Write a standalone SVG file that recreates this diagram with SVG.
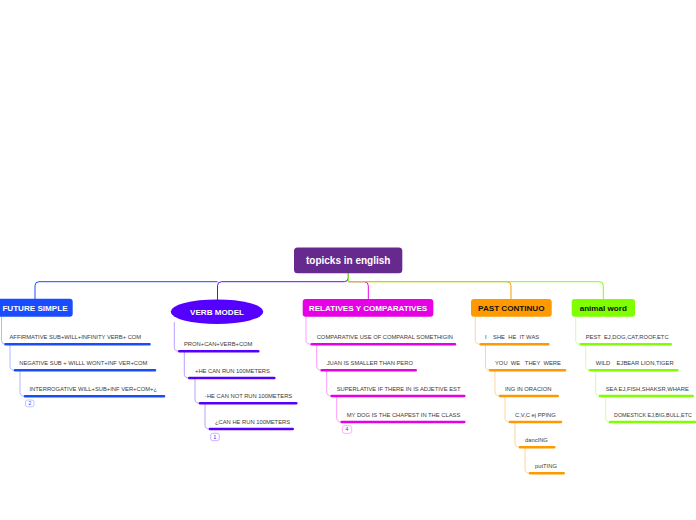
<svg xmlns="http://www.w3.org/2000/svg" width="696" height="520" viewBox="0 0 696 520">
<style>
.t{font-family:"Liberation Sans",Arial,sans-serif;font-size:5.8px;fill:#3a3a3a}
.h{font-family:"Liberation Sans",Arial,sans-serif;font-weight:bold;font-size:8.1px;text-anchor:middle}
.u{fill:none;stroke-width:2.6;stroke-linecap:round}
.c{fill:none;stroke-width:1}
.b{font-family:"Liberation Sans",Arial,sans-serif;font-size:5px;text-anchor:middle}
</style>
<rect width="696" height="520" fill="#fff"/>
<g id="connectors">
<path class="c" stroke="#1a4cff" d="M217.5,281.7 H39 Q35,281.7 35,285.7 V299"/>
<path class="c" stroke="#5a10ff" d="M348.3,273 V277.7 Q348.3,281.7 344.3,281.7 H221.5 Q217.5,281.7 217.5,285.7 V300"/>
<path class="c" stroke="#e600e6" d="M348.3,281.7 H364.3 Q368.3,281.7 368.3,285.7 V299"/>
<path class="c" stroke="#ff9900" d="M348.3,281.7 H507 Q511,281.7 511,285.7 V299"/>
<path class="c" stroke="#80ff00" d="M348.3,273 V281.7 H599.3 Q603.3,281.7 603.3,285.7 V299"/>
<g stroke="#a9bcff" class="c">
<path d="M1.5,316.7 V340.3 Q1.5,344.3 5.5,344.3"/>
<path d="M10,345 V366.3 Q10,370.3 15,370.3"/>
<path d="M20,371 V392.3 Q20,396.3 25,396.3"/>
</g>
<g stroke="#b9a0ff" class="c">
<path d="M174.3,322 V347.3 Q174.3,351.3 179.3,351.3"/>
<path d="M184.3,352 V374 Q184.3,378 189.3,378"/>
<path d="M195,379 V399.3 Q195,403.3 200,403.3"/>
<path d="M205,404 V425 Q205,429 210,429"/>
</g>
<g stroke="#ff9cff" class="c">
<path d="M306,316.7 V340.3 Q306,344.3 311.7,344.3"/>
<path d="M316.7,345 V366.3 Q316.7,370.3 321.7,370.3"/>
<path d="M326.7,371 V392 Q326.7,396 331.7,396"/>
<path d="M336.7,397 V418 Q336.7,422 341.7,422"/>
</g>
<g stroke="#ffd699" class="c">
<path d="M475.3,316.7 V340.3 Q475.3,344.3 480.7,344.3"/>
<path d="M485.5,345 V366.3 Q485.5,370.3 490,370.3"/>
<path d="M495,371 V392 Q495,396 500,396"/>
<path d="M505,397 V418 Q505,422 510,422"/>
<path d="M515,423 V443.3 Q515,447.3 520,447.3"/>
<path d="M525,448 V469.3 Q525,473.3 530,473.3"/>
</g>
<g stroke="#d0ffa0" class="c">
<path d="M575.7,316.7 V340.3 Q575.7,344.3 580.7,344.3"/>
<path d="M585.7,345 V366.3 Q585.7,370.3 590,370.3"/>
<path d="M595.7,371 V392 Q595.7,396 600,396"/>
<path d="M605.7,397 V418 Q605.7,422 610,422"/>
</g>
</g>
<g id="root">
<rect x="294" y="247.5" width="108.3" height="25.8" rx="3.5" fill="#662a8f"/>
<text class="h" x="348.2" y="264.2" style="font-size:10px" fill="#fff">topicks in english</text>
</g>
<g id="future">
<rect x="-6" y="298.7" width="78.7" height="18" rx="3" fill="#1a4cff"/>
<text class="h" x="35" y="310.9" fill="#fff">FUTURE SIMPLE</text>
<path class="u" stroke="#1a4cff" d="M5.5,344.3 H149.5 M15,370.3 H155 M25,396.3 H164"/>
<text class="t" x="9.5" y="339">AFFIRMATIVE SUB+WILL+INFINITY VERB+ COM</text>
<text class="t" x="19.3" y="365">NEGATIVE SUB + WILLL WONT+INF VER+COM</text>
<text class="t" x="29.5" y="391">INTERROGATIVE WILL+SUB+INF VER+COM+¿</text>
<rect x="25.5" y="400" width="8.5" height="6.8" rx="2" fill="#fff" stroke="#a9bcff" stroke-width="0.8"/>
<text class="b" x="29.8" y="405.3" fill="#1a4cff">2</text>
</g>
<g id="verb">
<ellipse cx="217" cy="311.7" rx="46.3" ry="12.3" fill="#5500ff"/>
<text class="h" x="217" y="314.6" fill="#fff">VERB MODEL</text>
<path class="u" stroke="#5500ff" d="M179.3,351.3 H258.3 M189.3,378 H274.3 M200,403.3 H296.3 M210,429 H292.7"/>
<text class="t" x="184" y="346.3">PRON+CAN+VERB+COM</text>
<text class="t" x="195" y="372.7">+HE CAN RUN 100METERS</text>
<text class="t" x="205" y="398">-HE CAN NOT RUN 100METERS</text>
<text class="t" x="215" y="423.7">¿CAN HE RUN 100METERS</text>
<rect x="210.7" y="433.3" width="8.6" height="7.4" rx="2" fill="#fff" stroke="#b9a0ff" stroke-width="0.8"/>
<text class="b" x="215" y="438.9" fill="#5500ff">1</text>
</g>
<g id="relatives">
<rect x="302.7" y="299" width="130.6" height="17.7" rx="3" fill="#e600e6"/>
<text class="h" x="368" y="310.8" fill="#fff">RELATIVES Y COMPARATIVES</text>
<path class="u" stroke="#e600e6" d="M311.7,344.3 H455 M321.7,370.3 H415.7 M331.7,396 H464.3 M341.7,422 H464.3"/>
<text class="t" x="316.7" y="338.8">COMPARATIVE USE OF COMPARAL SOMETHIGIN</text>
<text class="t" x="326.7" y="364.8">JUAN IS SMALLER THAN PERO</text>
<text class="t" x="336.7" y="390.5">SUPERLATIVE IF THERE IN IS ADJETIVE EST</text>
<text class="t" x="346.7" y="416.5">MY DOG IS THE CHAPEST IN THE CLASS</text>
<rect x="342.3" y="425.7" width="9.4" height="7.6" rx="2" fill="#fff" stroke="#ff9cff" stroke-width="0.8"/>
<text class="b" x="347" y="431.4" fill="#b000b0">4</text>
</g>
<g id="past">
<rect x="471" y="299" width="80.7" height="17.7" rx="3" fill="#ff9900"/>
<text class="h" x="511.3" y="310.8" fill="#111">PAST CONTINUO</text>
<path class="u" stroke="#ff9900" d="M480.7,344.3 H548.3 M490,370.3 H565 M500,396 H557.7 M510,422 H561 M520,447.3 H554.3 M530,473.3 H563.7"/>
<text class="t" x="485" y="338.8" xml:space="preserve">I    SHE  HE  IT WAS</text>
<text class="t" x="495" y="364.8" xml:space="preserve">YOU  WE   THEY  WERE</text>
<text class="t" x="505" y="390.5">ING IN ORACION</text>
<text class="t" x="515" y="416.5">C,V,C ej PPING</text>
<text class="t" x="525" y="441.8">dancING</text>
<text class="t" x="535" y="467.8">putTING</text>
</g>
<g id="animal">
<rect x="571.7" y="299" width="63.3" height="17.7" rx="3" fill="#80ff00"/>
<text class="h" x="603.3" y="310.8" fill="#111">animal word</text>
<path class="u" stroke="#80ff00" d="M580.7,344.3 H670.7 M590,370.3 H677.3 M600,396 H692.7 M610,422 H700"/>
<text class="t" x="585.7" y="338.8" xml:space="preserve">PEST  EJ,DOG,CAT,ROOF,ETC</text>
<text class="t" x="595.7" y="364.8" xml:space="preserve">WILD    EJBEAR LION,TIGER</text>
<text class="t" x="605.7" y="390.5">SEA EJ,FISH,SHAKSR,WHARE</text>
<text class="t" x="614" y="416.5" style="font-size:5.4px">DOMESTICK EJ,BIG,BULL,ETC</text>
</g>
</svg>
